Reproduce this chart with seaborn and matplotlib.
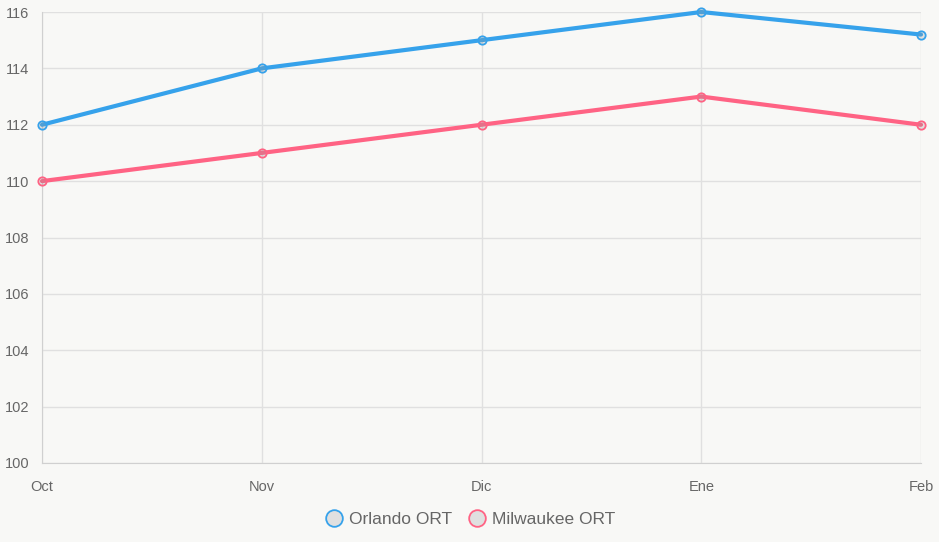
import numpy as np
import pandas as pd
import seaborn as sns
from matplotlib import pyplot as plt
from matplotlib.lines import Line2D

months = ['Oct', 'Nov', 'Dic', 'Ene', 'Feb']
orlando = [112, 114, 115, 116, 115.2]
milwaukee = [110, 111, 112, 113, 112]
series_names = ['Orlando ORT', 'Milwaukee ORT']
colors = ['#36a2eb', '#ff6384']

df = pd.DataFrame({'month': months * 2,
                   'value': orlando + milwaukee,
                   'series': [series_names[0]] * 5 + [series_names[1]] * 5})
df['x'] = list(range(len(months))) * 2

sns.set_style('white')
plt.rcParams['font.family'] = ['Liberation Sans', 'DejaVu Sans']
bg = '#f8f8f6'

fig = plt.figure(figsize=(9.39, 5.42), dpi=100, facecolor=bg)
ax = fig.add_axes([42 / 939, 1 - 463 / 542, 879 / 939, 451 / 542])
ax.set_facecolor(bg)

sns.lineplot(data=df, x='x', y='value', hue='series', palette=colors,
             linewidth=3, legend=False, ax=ax, zorder=3)
for ln in ax.get_lines():
    ln.set_clip_on(False)
for name, c in zip(series_names, colors):
    sub = df[df['series'] == name]
    ax.scatter(sub['x'], sub['value'], s=36, facecolor=(0.6, 0.6, 0.6, 0.25),
               edgecolor=c, linewidth=1.3, zorder=4, clip_on=False)

ax.set_xlim(0, len(months) - 1)
ax.set_ylim(100, 116)
ax.set_xticks(range(len(months)))
ax.set_xticklabels(months)
ax.set_yticks(np.arange(100, 117, 2))
ax.set_xlabel('')
ax.set_ylabel('')
ax.grid(True, color='#e0e0e0', linewidth=1)
for s in ax.spines.values():
    s.set_visible(False)
ax.spines['left'].set_visible(True)
ax.spines['left'].set_color('#d0d0d0')
ax.spines['bottom'].set_visible(True)
ax.spines['bottom'].set_color('#d0d0d0')
ax.tick_params(axis='both', colors='#666666', labelsize=10.5, length=6, width=1,
               color='#e0e0e0', direction='out')
ax.tick_params(axis='x', length=7, pad=5)
ax.tick_params(axis='y', pad=3)
for lbl in ax.get_xticklabels() + ax.get_yticklabels():
    lbl.set_color('#666666')

handles = [Line2D([0], [0], marker='o', linestyle='', markersize=12,
                  markerfacecolor='#e0e0e0', markeredgecolor=c, markeredgewidth=1.3,
                  label=n) for n, c in zip(series_names, colors)]
fig.legend(handles=handles, loc='center', bbox_to_anchor=(0.5, 1 - 519 / 542),
           ncol=2, frameon=False, fontsize=12.5, labelcolor='#666666',
           handletextpad=0.3, columnspacing=0.8, handlelength=1.2)

fig.savefig('out.png', dpi=100, facecolor=bg)
